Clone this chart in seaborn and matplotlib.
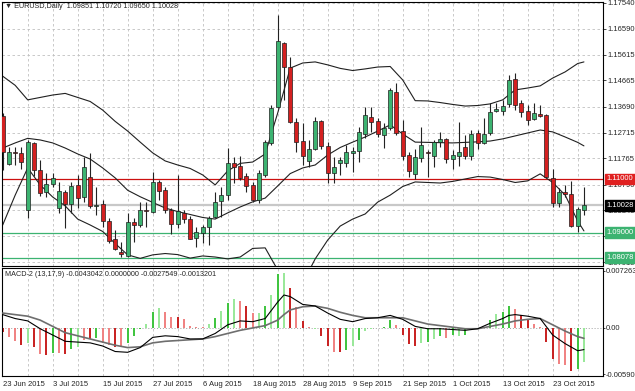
import numpy as np
import seaborn as sns
import matplotlib.pyplot as plt
from matplotlib.transforms import blended_transform_factory

# EURUSD daily, 23 Jun 2015 - 30 Oct 2015
open_ = [1.1334, 1.1156, 1.1201, 1.1198, 1.0985, 1.1233, 1.1133, 1.1053, 1.1080, 1.0992,
         1.1053, 1.1006, 1.1078, 1.1032, 1.1109, 1.1001, 1.1007, 1.0945, 1.0878, 1.0830,
         1.0815, 1.0940, 1.0928, 1.0983, 1.0976, 1.1090, 1.1059, 1.0985, 1.0932, 1.0972,
         1.0950, 1.0882, 1.0900, 1.0920, 1.0960, 1.1018, 1.1041, 1.1158, 1.1148, 1.1111,
         1.1078, 1.1022, 1.1115, 1.1235, 1.1369, 1.1604, 1.1515, 1.1311, 1.1241, 1.1168,
         1.1210, 1.1315, 1.1224, 1.1121, 1.1158, 1.1161, 1.1198, 1.1204, 1.1267, 1.1329,
         1.1315, 1.1263, 1.1288, 1.1424, 1.1279, 1.1189, 1.1119, 1.1179, 1.1199, 1.1187,
         1.1236, 1.1247, 1.1173, 1.1187, 1.1220, 1.1187, 1.1270, 1.1235, 1.1270, 1.1354,
         1.1354, 1.1378, 1.1470, 1.1381, 1.1353, 1.1322, 1.1343, 1.1338, 1.1103, 1.1010,
         1.1052, 1.1043, 1.0925, 1.09851]
high = [1.1345, 1.1219, 1.1220, 1.1220, 1.1245, 1.1239, 1.1171, 1.1121, 1.1122, 1.1090,
        1.1059, 1.1090, 1.1115, 1.1183, 1.1196, 1.1069, 1.1022, 1.0955, 1.0910, 1.0867,
        1.0972, 1.0955, 1.1016, 1.1016, 1.1127, 1.1096, 1.1071, 1.0991, 1.1115, 1.0985,
        1.0962, 1.0923, 1.0929, 1.0962, 1.1053, 1.1071, 1.1214, 1.1183, 1.1185, 1.1123,
        1.1090, 1.1133, 1.1245, 1.1375, 1.1709, 1.1608, 1.1554, 1.1326, 1.1307, 1.1245,
        1.1329, 1.1319, 1.1239, 1.1183, 1.1183, 1.1226, 1.1220, 1.1294, 1.1369, 1.1369,
        1.1326, 1.1307, 1.1437, 1.1456, 1.1319, 1.1201, 1.1210, 1.1294, 1.1208, 1.1245,
        1.1276, 1.1251, 1.1208, 1.1313, 1.1263, 1.1282, 1.1282, 1.1326, 1.1381, 1.1381,
        1.1393, 1.1486, 1.1493, 1.1393, 1.1375, 1.1381, 1.1375, 1.1341, 1.1136, 1.1065,
        1.1078, 1.1094, 1.0997, 1.10720]
low = [1.1133, 1.1152, 1.1152, 1.1137, 1.0955, 1.1112, 1.1037, 1.1034, 1.1070, 1.0972,
       1.0918, 1.0972, 1.0991, 1.1016, 1.0991, 1.0966, 1.0923, 1.0861, 1.0836, 1.0811,
       1.0811, 1.0867, 1.0920, 1.0923, 1.0972, 1.1022, 1.0972, 1.0896, 1.0917, 1.0935,
       1.0876, 1.0846, 1.0863, 1.0855, 1.0954, 1.0960, 1.1022, 1.1084, 1.1096, 1.1053,
       1.1016, 1.1012, 1.1108, 1.1226, 1.1363, 1.1393, 1.1307, 1.1201, 1.1152, 1.1146,
       1.1208, 1.1210, 1.1084, 1.1084, 1.1115, 1.1146, 1.1127, 1.1164, 1.1251, 1.1276,
       1.1257, 1.1214, 1.1282, 1.1263, 1.1171, 1.1108, 1.1099, 1.1164, 1.1108, 1.1146,
       1.1220, 1.1158, 1.1136, 1.1148, 1.1173, 1.1171, 1.1210, 1.1230, 1.1263, 1.1350,
       1.1338, 1.1369, 1.1356, 1.1332, 1.1301, 1.1319, 1.1332, 1.1103, 1.0995, 1.0997,
       1.1034, 1.0923, 1.0904, 1.09650]
close = [1.1200, 1.1201, 1.1198, 1.1164, 1.1236, 1.1133, 1.1049, 1.1081, 1.1105, 1.1055,
         1.1006, 1.1074, 1.1028, 1.1146, 1.1001, 1.1005, 1.0944, 1.0871, 1.0839, 1.0821,
         1.0939, 1.0928, 1.0984, 1.0980, 1.1088, 1.1055, 1.0985, 1.0932, 1.0981, 1.0950,
         1.0878, 1.0904, 1.0920, 1.0956, 1.1016, 1.1041, 1.1158, 1.1146, 1.1103, 1.1074,
         1.1022, 1.1121, 1.1239, 1.1363, 1.1613, 1.1515, 1.1313, 1.1239, 1.1187, 1.1211,
         1.1315, 1.1222, 1.1121, 1.1146, 1.1171, 1.1201, 1.1205, 1.1276, 1.1338, 1.1311,
         1.1267, 1.1288, 1.1431, 1.1272, 1.1185, 1.1130, 1.1181, 1.1226, 1.1198, 1.1236,
         1.1250, 1.1174, 1.1189, 1.1201, 1.1187, 1.1267, 1.1235, 1.1267, 1.1350, 1.1359,
         1.1372, 1.1468, 1.1375, 1.1350, 1.1319, 1.1344, 1.1334, 1.1109, 1.1010, 1.1053,
         1.1043, 1.0925, 1.0987, 1.10028]

date_labels = ["23 Jun 2015", "3 Jul 2015", "15 Jul 2015", "27 Jul 2015", "6 Aug 2015",
               "18 Aug 2015", "28 Aug 2015", "9 Sep 2015", "21 Sep 2015", "1 Oct 2015",
               "13 Oct 2015", "23 Oct 2015"]
price_ticks = [1.17540, 1.16590, 1.15615, 1.14665, 1.13690, 1.12715, 1.11765,
               1.10790, 1.09840, 1.08865, 1.07915]

# Bollinger bands, read every second bar
band_idx = list(range(0, 93, 2)) + [93]
bb_upper = [1.1482, 1.1448, 1.1394, 1.1403, 1.1412, 1.1418, 1.1403, 1.1388, 1.1356, 1.1314,
            1.1278, 1.1237, 1.1197, 1.1167, 1.1152, 1.1139, 1.1115, 1.1078, 1.1130, 1.1158,
            1.1163, 1.1193, 1.1345, 1.1512, 1.1531, 1.1535, 1.1524, 1.1511, 1.1503, 1.1509,
            1.1516, 1.1518, 1.1468, 1.1391, 1.1390, 1.1384, 1.1377, 1.1371, 1.1373, 1.1379,
            1.1394, 1.1431, 1.1438, 1.1446, 1.1475, 1.1498, 1.1529, 1.1535]
bb_mid = [1.1215, 1.1234, 1.1251, 1.1245, 1.1234, 1.1215, 1.1193, 1.1174, 1.1141, 1.1104,
          1.1058, 1.1034, 1.1013, 1.0992, 1.0979, 1.0968, 1.0957, 1.0951, 1.0974, 1.0996,
          1.1015, 1.1029, 1.1074, 1.1120, 1.1141, 1.1152, 1.1189, 1.1217, 1.1237, 1.1256,
          1.1278, 1.1301, 1.1267, 1.1237, 1.1236, 1.1235, 1.1234, 1.1236, 1.1238, 1.1241,
          1.1249, 1.1260, 1.1271, 1.1282, 1.1275, 1.1256, 1.1236, 1.1223]
bb_lower = [1.0929, 1.1040, 1.1141, 1.1078, 1.1033, 1.1000, 1.0951, 1.0929, 1.0905, 1.0860,
            1.0818, 1.0805, 1.0818, 1.0823, 1.0819, 1.0806, 1.0814, 1.0810, 1.0803, 1.0810,
            1.0842, 1.0844, 1.0762, 1.0687, 1.0713, 1.0803, 1.0873, 1.0925, 1.0951, 1.0970,
            1.1014, 1.1040, 1.1072, 1.1089, 1.1087, 1.1085, 1.1091, 1.1100, 1.1109, 1.1107,
            1.1098, 1.1087, 1.1093, 1.1119, 1.1087, 1.1040, 1.0944, 1.0907]

# MACD-2 (13,17,9)
macd_idx = list(range(0, 45, 2)) + [45] + list(range(46, 81, 2)) + [81] + list(range(82, 93, 2)) + [93]
macd_line = [0.0017, 0.0012, 0.0009, -0.0001, -0.0009, -0.0017, -0.0018, -0.0019, -0.0023, -0.0030,
             -0.0031, -0.0025, -0.0012, -0.0010, -0.0011, -0.0014, -0.0014, -0.0007, 0.0004, 0.0009,
             0.0008, 0.0012, 0.0033, 0.0042, 0.0040, 0.0030, 0.0028, 0.0019, 0.0011, 0.0008,
             0.0012, 0.0013, 0.0016, 0.0011, 0.0002, -0.0001, -0.0001, -0.0002, -0.0003, -0.0001,
             0.0006, 0.0012, 0.0016, 0.0017, 0.0015, 0.0012, -0.0009, -0.0020, -0.0029, -0.0027549]
signal_line = [0.0019, 0.0017, 0.0015, 0.0010, 0.0002, -0.0006, -0.0010, -0.0014, -0.0018, -0.0022,
               -0.0025, -0.0024, -0.0019, -0.0017, -0.0016, -0.0015, -0.0014, -0.0011, -0.0007, -0.0003,
               0.0000, 0.0003, 0.0010, 0.0017, 0.0023, 0.0027, 0.0028, 0.0025, 0.0020, 0.0016,
               0.0013, 0.0013, 0.0013, 0.0013, 0.0009, 0.0005, 0.0003, 0.0001, -0.0001, -0.0001,
               0.0002, 0.0005, 0.0007, 0.0009, 0.0011, 0.0012, 0.0004, -0.0004, -0.0011, -0.0013201]
hist = [-0.00047, -0.00119, -0.00161, -0.00217, -0.00187, -0.00246, -0.00331, -0.00344, -0.00323, -0.00323,
        -0.00336, -0.00272, -0.00246, -0.00153, -0.00144, -0.00132, -0.00195, -0.00217, -0.00246, -0.00246,
        -0.00187, -0.00102, -0.00010, 0.00051, 0.00208, 0.00251, 0.00208, 0.00144, 0.00144, 0.00110,
        0.00030, 0.00017, 0.00010, 0.00051, 0.00123, 0.00220, 0.00323, 0.00365, 0.00348, 0.00280,
        0.00195, 0.00195, 0.00280, 0.00420, 0.00688, 0.00705, 0.00505, 0.00270, 0.00085, 0.00010,
        -0.00010, -0.00106, -0.00234, -0.00306, -0.00306, -0.00276, -0.00234, -0.00149, -0.00042, -0.00010,
        0.00000, 0.00010, 0.00098, 0.00034, -0.00093, -0.00200, -0.00234, -0.00191, -0.00178, -0.00144,
        -0.00106, -0.00127, -0.00093, -0.00106, -0.00093, -0.00010, 0.00000, 0.00010, 0.00106, 0.00174,
        0.00204, 0.00276, 0.00246, 0.00161, 0.00106, 0.00047, 0.00013, -0.00178, -0.00391, -0.00454,
        -0.00476, -0.00548, -0.00527, -0.0043042]
hist_shade = list("rpprlrprgp" "rglprgpprp" "ggglglpprp" "ppplglglpr" "plglglrprp"
                  "lrrprglgll" "pggprrrlgl" "gpglglglgl" "ggprrpprrp" "prgl")

shade_colors = {"r": "#c81e1e", "p": "#f08080", "g": "#3cc43c", "l": "#98e898"}
up_color = "#3cb371"
down_color = "#d42020"
grid_kw = dict(color="#c0c0c0", lw=0.6, ls=(0, (3, 3)), zorder=0)
FS = 5.5

sns.set_style("white")
plt.rcParams['font.family'] = ['Liberation Sans', 'DejaVu Sans']
plt.rcParams['font.size'] = FS

W, H = 635, 391
fig = plt.figure(figsize=(W / 100, H / 100), dpi=100)
ax = fig.add_axes([2 / W, 1 - 265.5 / H, 601 / W, 264 / H])
ax2 = fig.add_axes([2 / W, 1 - 376 / H, 601 / W, 108 / H])

bars = np.arange(len(close))
x_lim = (-0.11, 96.05)

# ---- price panel ----
for y in price_ticks:
    ax.axhline(y, **grid_kw)
for b in range(4, 96, 4):
    ax.axvline(b, **grid_kw)
    ax2.axvline(b, **grid_kw)

ax.axhline(1.10028, color="#c8c8c8", lw=1.6, zorder=1)
ax.axhline(1.11000, color="#cc1010", lw=0.9, zorder=1)
ax.axhline(1.09000, color=up_color, lw=0.9, zorder=1)
ax.axhline(1.08078, color=up_color, lw=0.9, zorder=1)

for band in (bb_upper, bb_mid, bb_lower):
    sns.lineplot(x=band_idx, y=band, ax=ax, color="#202020", lw=0.8, zorder=2)

o = np.array(open_)
c = np.array(close)
ax.vlines(bars, low, high, color="#222222", lw=0.8, zorder=3)
body_bottom = np.minimum(o, c)
body_height = np.maximum(np.abs(c - o), 0.00012)
body_colors = np.where(c >= o, up_color, down_color)
ax.bar(bars, body_height, bottom=body_bottom, width=0.64, color=body_colors,
       edgecolor="#1e1e1e", lw=0.5, zorder=4)

ax.set_xlim(*x_lim)
ax.set_ylim(1.07785, 1.17595)
ax.yaxis.tick_right()
ax.set_yticks(price_ticks)
ax.set_yticklabels([f"{t:.5f}" for t in price_ticks])
ax.set_xticks([])
ax.tick_params(axis="y", direction="out", length=2.5, width=0.6, pad=1, labelsize=FS)

ytr = blended_transform_factory(ax.transAxes, ax.transData)
for val, txt, fc in [(1.11000, "1.11000", "#e02020"), (1.10028, "1.10028", "#000000"),
                     (1.09000, "1.09000", up_color), (1.08078, "1.08078", up_color)]:
    ax.text(1.0065, val, txt, transform=ytr, ha="left", va="center", fontsize=FS,
            color="white", clip_on=False, zorder=10,
            bbox=dict(boxstyle="square,pad=0.25", fc=fc, ec=fc))

fig.text(5 / W, 1 - 7 / H, "\u25bc EURUSD,Daily  1.09851 1.10720 1.09650 1.10028",
         ha="left", va="center", fontsize=5.2)

# ---- MACD panel ----
ax2.axhline(0, color="#a0a0a0", lw=0.7, ls=(0, (1, 2)), zorder=0)
ax2.vlines(bars, 0, hist, colors=[shade_colors[s] for s in hist_shade], lw=1.4, zorder=2)
sns.lineplot(x=macd_idx, y=signal_line, ax=ax2, color="#6e6e6e", lw=1.2, zorder=3)
sns.lineplot(x=macd_idx, y=macd_line, ax=ax2, color="#000000", lw=0.8, zorder=4)

ax2.set_xlim(*x_lim)
ax2.set_ylim(-0.00612, 0.00764)
ax2.yaxis.tick_right()
ax2.set_yticks([0.007263, 0.0, -0.005905])
ax2.set_yticklabels(["0.007263", "0.00", "-0.005905"])
ax2.set_xticks(list(range(0, 89, 8)))
ax2.set_xticklabels(date_labels, ha="left")
ax2.tick_params(axis="x", direction="out", length=2.5, width=0.6, pad=1, labelsize=FS)
ax2.tick_params(axis="y", direction="out", length=1.5, width=0.6, pad=0.3, labelsize=FS)
ax2.set_xlabel("")
ax2.set_ylabel("")
ax.set_xlabel("")
ax.set_ylabel("")

fig.text(5 / W, 1 - 275 / H, "MACD-2 (13,17,9) -0.0043042 0.0000000 -0.0027549 -0.0013201",
         ha="left", va="center", fontsize=5.2)

for a in (ax, ax2):
    for s in a.spines.values():
        s.set_color("black")
        s.set_linewidth(0.8)

fig.savefig("out.png", dpi=100, facecolor="white")
